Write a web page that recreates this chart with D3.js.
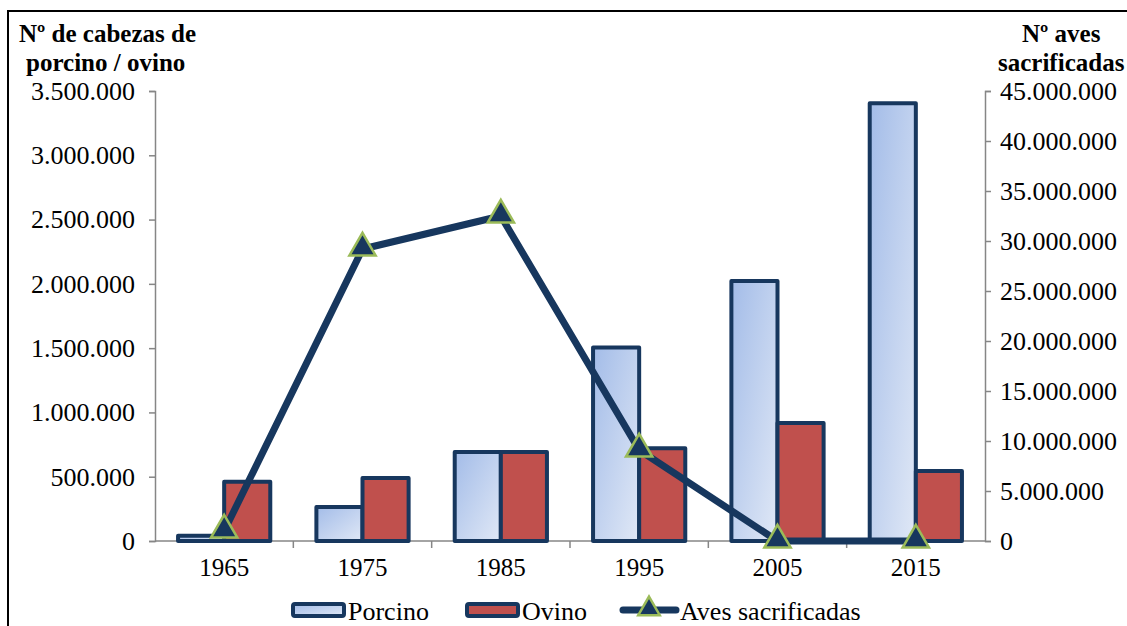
<!DOCTYPE html>
<html>
<head>
<meta charset="utf-8">
<script src="https://cdn.jsdelivr.net/npm/d3@7"></script>
<style>
  body { margin: 0; background: #fff; }
  svg { display: block; font-family: "Liberation Serif", "Times New Roman", serif; }
</style>
</head>
<body>
<div id="chart"></div>
<script>
const years = ["1965", "1975", "1985", "1995", "2005", "2015"];
const porcino = [40000, 265000, 692000, 1505000, 2022000, 3405000];
const ovino = [460000, 490000, 692000, 722000, 918000, 545000];
const aves = [1000000, 29200000, 32500000, 9100000, 0, 0];
const leftTicks = [0, 500000, 1000000, 1500000, 2000000, 2500000, 3000000, 3500000];
const rightTicks = [0, 5000000, 10000000, 15000000, 20000000, 25000000, 30000000, 35000000, 40000000, 45000000];

const width = 1127, height = 626;
const margin = {left: 155, right: 142, top: 91, bottom: 85};
const navy = "#17375e";
const serif = "'Liberation Serif', 'Times New Roman', serif";

const fmt = v => v === 0 ? "0" : d3.format(",")(v).replace(/,/g, ".");

let svg = d3.select("#chart").append("svg")
    .attr("width", width)
    .attr("height", height);

// outer frame
svg.append("rect")
    .attr("x", 8).attr("y", 11)
    .attr("width", 1130).attr("height", 630)
    .attr("fill", "none").attr("stroke", "#000").attr("stroke-width", 2);

let defs = svg.append("defs");
let grad = defs.append("linearGradient")
    .attr("id", "porc")
    .attr("x1", "0%").attr("y1", "0%").attr("x2", "100%").attr("y2", "100%");
grad.append("stop").attr("offset", "0%").attr("stop-color", "#a3bce8");
grad.append("stop").attr("offset", "100%").attr("stop-color", "#e0e8f6");

let x = d3.scaleBand()
    .domain(years)
    .range([margin.left, width - margin.right]);

let yL = d3.scaleLinear()
    .domain([0, 3500000])
    .range([height - margin.bottom, margin.top]);

let yR = d3.scaleLinear()
    .domain([0, 45000000])
    .range([height - margin.bottom, margin.top]);

const barW = x.bandwidth() / 3;

function styleAxis(sel, size) {
  sel.attr("font-family", serif).attr("font-size", size);
  sel.selectAll("path, line").attr("stroke", "#868686").attr("stroke-width", 1.5);
  sel.selectAll("text").attr("fill", "#000").style("font-family", serif).style("font-size", size + "px");
}

// axes
svg.append("g")
    .attr("transform", `translate(${margin.left},0)`)
    .call(d3.axisLeft(yL).tickValues(leftTicks).tickFormat(fmt).tickSize(6).tickPadding(14))
    .call(styleAxis, 26);

svg.append("g")
    .attr("transform", `translate(${width - margin.right},0)`)
    .call(d3.axisRight(yR).tickValues(rightTicks).tickFormat(fmt).tickSize(6).tickPadding(9))
    .call(styleAxis, 26);

let xAxis = svg.append("g")
    .attr("transform", `translate(0,${height - margin.bottom})`)
    .call(d3.axisBottom(x).tickSize(0).tickPadding(17).tickSizeOuter(0));
xAxis.selectAll(".domain").remove();
xAxis.append("line")
    .attr("x1", margin.left).attr("x2", width - margin.right);
xAxis.selectAll(".sep")
    .data(years.slice(1))
    .enter().append("line")
    .attr("class", "sep")
    .attr("x1", d => x(d)).attr("x2", d => x(d))
    .attr("y1", 0).attr("y2", 7);
xAxis.call(styleAxis, 25);

let g = svg.append("g");

// bars
g.selectAll(".porc")
    .data(years)
    .enter().append("rect")
    .attr("class", "porc")
    .attr("x", d => x(d) + x.bandwidth() / 2 - barW)
    .attr("y", (d, i) => yL(porcino[i]))
    .attr("width", barW)
    .attr("height", (d, i) => yL(0) - yL(porcino[i]))
    .attr("fill", "url(#porc)")
    .attr("stroke", navy).attr("stroke-width", 4).attr("stroke-linejoin", "round");

g.selectAll(".ovi")
    .data(years)
    .enter().append("rect")
    .attr("class", "ovi")
    .attr("x", d => x(d) + x.bandwidth() / 2)
    .attr("y", (d, i) => yL(ovino[i]))
    .attr("width", barW)
    .attr("height", (d, i) => yL(0) - yL(ovino[i]))
    .attr("fill", "#c0504d")
    .attr("stroke", navy).attr("stroke-width", 4).attr("stroke-linejoin", "round");

// line
let line = d3.line()
    .x((d, i) => x(years[i]) + x.bandwidth() / 2)
    .y(d => yR(d));

g.append("path")
    .datum(aves)
    .attr("d", line)
    .attr("fill", "none")
    .attr("stroke", navy).attr("stroke-width", 7).attr("stroke-linejoin", "round");

let tri = d3.symbol().type(d3.symbolTriangle).size(300);
g.selectAll(".mk")
    .data(aves)
    .enter().append("path")
    .attr("class", "mk")
    .attr("d", tri)
    .attr("transform", (d, i) => `translate(${x(years[i]) + x.bandwidth() / 2},${yR(d) - 1})`)
    .attr("fill", navy)
    .attr("stroke", "#9bbb59").attr("stroke-width", 2.5);

// titles
let tl = svg.append("text")
    .attr("font-size", 25).attr("font-weight", "bold");
tl.append("tspan").attr("x", 19).attr("y", 42).text("Nº de cabezas de");
tl.append("tspan").attr("x", 26).attr("y", 71).text("porcino / ovino");

let tr = svg.append("text")
    .attr("font-size", 25).attr("font-weight", "bold");
tr.append("tspan").attr("x", 1022).attr("y", 42).text("Nº aves");
tr.append("tspan").attr("x", 998).attr("y", 71).text("sacrificadas");

// legend
let lg = svg.append("g").attr("transform", "translate(0,611)");
lg.append("rect").attr("x", 293).attr("y", -7).attr("width", 51).attr("height", 12)
    .attr("rx", 2).attr("fill", "url(#porc)").attr("stroke", navy).attr("stroke-width", 4);
lg.append("text").attr("x", 348).attr("y", 9).attr("font-size", 26).text("Porcino");
lg.append("rect").attr("x", 467).attr("y", -7).attr("width", 51).attr("height", 12)
    .attr("rx", 2).attr("fill", "#c0504d").attr("stroke", navy).attr("stroke-width", 4);
lg.append("text").attr("x", 522).attr("y", 9).attr("font-size", 26).text("Ovino");
lg.append("line").attr("x1", 623).attr("x2", 676).attr("y1", -1).attr("y2", -1)
    .attr("stroke", navy).attr("stroke-width", 7).attr("stroke-linecap", "round");
lg.append("path").attr("d", d3.symbol().type(d3.symbolTriangle).size(200))
    .attr("transform", "translate(649,-2)")
    .attr("fill", navy).attr("stroke", "#9bbb59").attr("stroke-width", 2.5);
lg.append("text").attr("x", 680).attr("y", 9).attr("font-size", 26).text("Aves sacrificadas");
</script>
</body>
</html>
